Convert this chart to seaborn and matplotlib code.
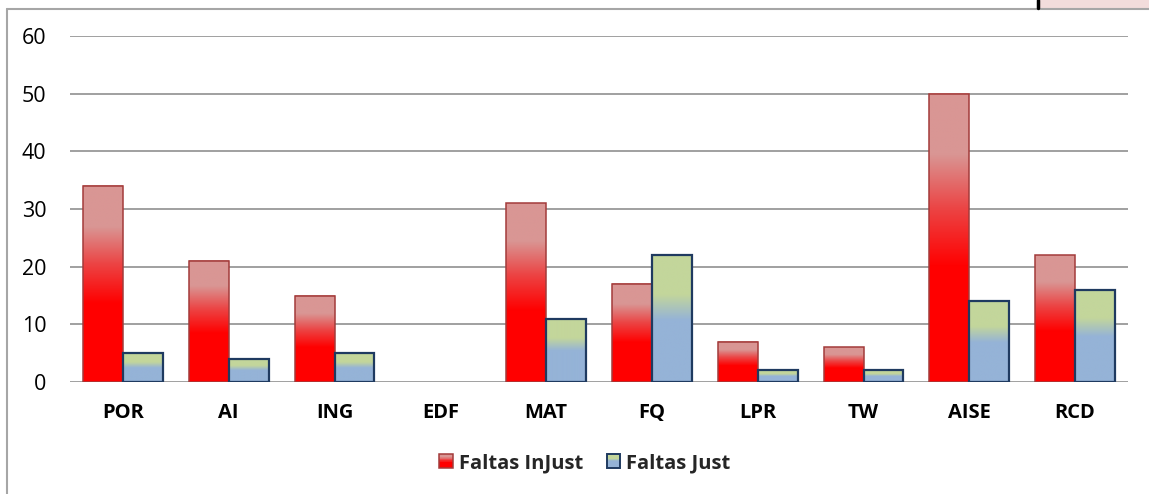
import numpy as np
import pandas as pd
import matplotlib
matplotlib.use("Agg")
import matplotlib.pyplot as plt
import matplotlib.colors as mcolors
from matplotlib.patches import Rectangle
from matplotlib.lines import Line2D
from matplotlib.legend_handler import HandlerBase
import seaborn as sns

# ---- data ----
categories = ["POR", "AI", "ING", "EDF", "MAT", "FQ", "LPR", "TW", "AISE", "RCD"]
faltas_injust = [34, 21, 15, 0, 31, 17, 7, 6, 50, 22]
faltas_just = [5, 4, 5, 0, 11, 22, 2, 2, 14, 16]
series_names = ["Faltas InJust", "Faltas Just"]
y_ticks = [0, 10, 20, 30, 40, 50, 60]

df = pd.DataFrame({
    "cat": categories * 2,
    "val": faltas_injust + faltas_just,
    "serie": [series_names[0]] * len(categories) + [series_names[1]] * len(categories),
})

# gradient stops (fraction from bottom, color)
red_stops = [(0.0, "#FF0000"), (0.40, "#FF0000"), (0.60, "#EC4444"), (0.79, "#D99694"), (1.0, "#D99694")]
blue_stops = [(0.0, "#95B3D7"), (0.49, "#95B3D7"), (0.69, "#C3D69B"), (1.0, "#C3D69B")]
edge_cols = {series_names[0]: "#A33B3A", series_names[1]: "#1F3A60"}
edge_lw = {series_names[0]: 1.1, series_names[1]: 1.6}
stops_for = {series_names[0]: red_stops, series_names[1]: blue_stops}


def grad_array(stops, n=256):
    pos = [s[0] for s in stops]
    cols = np.array([mcolors.to_rgb(s[1]) for s in stops])
    t = np.linspace(0, 1, n)
    arr = np.stack([np.interp(t, pos, cols[:, i]) for i in range(3)], axis=-1)
    return arr.reshape(n, 1, 3)


sns.set_theme(style="white")
plt.rcParams["font.family"] = ["Open Sans", "DejaVu Sans"]

fig = plt.figure(figsize=(11.49, 4.94), dpi=100)
ax = fig.add_axes([70 / 1149, 1 - 382 / 494, (1128 - 70) / 1149, (382 - 36) / 494])

sns.barplot(data=df, x="cat", y="val", hue="serie", order=categories,
            hue_order=series_names, width=0.755, ax=ax, legend=False,
            palette=["#FF0000", "#95B3D7"], saturation=1)

# apply gradients to bars
n = len(categories)
for i, patch in enumerate(ax.patches):
    s = series_names[i // n]
    x, y0 = patch.get_x(), patch.get_y()
    w, h = patch.get_width(), patch.get_height()
    if h <= 0:
        patch.set_visible(False)
        continue
    ax.imshow(grad_array(stops_for[s]), extent=[x, x + w, y0, y0 + h],
              origin="lower", aspect="auto", zorder=2, interpolation="bilinear")
    patch.set_facecolor("none")
    patch.set_edgecolor(edge_cols[s])
    patch.set_linewidth(edge_lw[s])
    patch.set_zorder(3)

ax.set_xlim(-0.5, n - 0.5)
ax.set_ylim(0, 60)
ax.set_yticks(y_ticks)
ax.yaxis.grid(True, color="#868686", linewidth=1.1)
ax.set_axisbelow(True)
for sp in ax.spines.values():
    sp.set_visible(False)
ax.set_xlabel("")
ax.set_ylabel("")
ax.tick_params(axis="y", length=0, pad=17, labelsize=15.5, labelcolor="#000000")
ax.tick_params(axis="x", length=0, pad=15, labelsize=14.5, labelcolor="#000000")
for lab in ax.get_xticklabels():
    lab.set_fontweight("bold")


# legend with gradient squares
class GradHandler(HandlerBase):
    def __init__(self, stops, edge, lw):
        super().__init__()
        self.stops, self.edge, self.lw = stops, edge, lw

    def create_artists(self, legend, orig_handle, xdescent, ydescent, width, height, fontsize, trans):
        arts = []
        arr = grad_array(self.stops, 24)[:, 0, :]
        k = len(arr)
        for j in range(k):
            r = Rectangle((-xdescent, -ydescent + height * j / k), width, height / k + 0.3,
                          facecolor=arr[j], edgecolor="none", transform=trans)
            arts.append(r)
        arts.append(Rectangle((-xdescent, -ydescent), width, height, facecolor="none",
                              edgecolor=self.edge, linewidth=self.lw, transform=trans))
        return arts


h1 = Rectangle((0, 0), 1, 1)
h2 = Rectangle((0, 0), 1, 1)
leg = fig.legend([h1, h2], series_names, loc="center", bbox_to_anchor=(585 / 1149, 1 - 463 / 494),
                 ncol=2, frameon=False, handlelength=0.68, handleheight=0.68, handletextpad=0.3,
                 columnspacing=1.15, prop={"size": 14.5, "weight": "bold"},
                 handler_map={h1: GradHandler(red_stops, edge_cols[series_names[0]], 1.1),
                              h2: GradHandler(blue_stops, edge_cols[series_names[1]], 1.4)})

# chart frame decorations
fig.add_artist(Line2D([7 / 1149, 7 / 1149], [0, 1 - 9 / 494], transform=fig.transFigure,
                      color="#A6A6A6", linewidth=1.5))
fig.add_artist(Line2D([7 / 1149, 1], [1 - 9 / 494, 1 - 9 / 494], transform=fig.transFigure,
                      color="#A6A6A6", linewidth=1.5))
fig.add_artist(Rectangle((1040 / 1149, 1 - 8 / 494), 109 / 1149, 8 / 494, transform=fig.transFigure,
                         facecolor="#F2DCDB", edgecolor="none"))
fig.add_artist(Line2D([1038 / 1149, 1038 / 1149], [1 - 8 / 494, 1], transform=fig.transFigure,
                      color="#000000", linewidth=2.5))

fig.savefig("out.png", dpi=100)
